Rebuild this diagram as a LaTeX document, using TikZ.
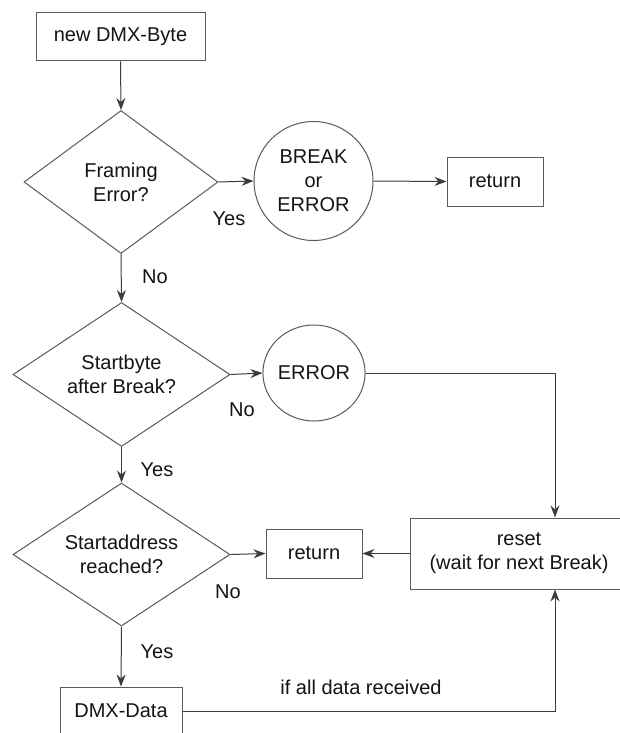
\documentclass[tikz,border=0pt]{standalone}
\usepackage{fontspec}
\setmainfont{Liberation Sans}
\usetikzlibrary{shapes.geometric,arrows.meta}
\definecolor{linecol}{RGB}{90,90,90}
\definecolor{conncol}{RGB}{60,60,60}
\definecolor{txtcol}{RGB}{20,20,20}
\begin{document}
\begin{tikzpicture}[x=1pt,y=-1pt,
  every node/.style={font=\fontsize{20pt}{24pt}\selectfont, text=txtcol},
  procbox/.style={draw=linecol, line width=1pt, rectangle, inner sep=0pt, align=center},
  decision/.style={draw=linecol, line width=1pt, diamond, inner sep=0pt, aspect=1.5},
  term/.style={draw=linecol, line width=1pt, ellipse, inner sep=0pt, align=center},
  arr/.style={draw=conncol, line width=1pt, -{Stealth[length=12pt,width=9pt,inset=4pt]}},
  plain/.style={draw=conncol, line width=1pt},
  lbl/.style={inner sep=0pt}
]
\useasboundingbox (0,0) rectangle (619,733);
\fill[white] (0,0) rectangle (619,733);

% nodes
\node[procbox, minimum width=169pt, minimum height=48pt] (start) at (120.5,37) {new DMX-Byte};
\node[decision, minimum width=194pt, minimum height=143pt,
      label={[align=center, inner sep=0pt]center:Framing\\Error?}] (d1) at (121,182) {};
\node[term, minimum width=119pt, minimum height=119pt] (brk) at (313.5,181) {BREAK\\or\\ERROR};
\node[procbox, minimum width=96pt, minimum height=49pt] (ret1) at (495,181.5) {return};

\node[decision, minimum width=217pt, minimum height=144pt,
      label={[align=center, inner sep=0pt]center:Startbyte\\after Break?}] (d2) at (121.5,374.5) {};
\node[term, minimum width=96pt, minimum height=96pt] (err) at (314,373) {ERROR};

\node[decision, minimum width=217pt, minimum height=143pt,
      label={[align=center, inner sep=0pt]center:Startaddress\\reached?}] (d3) at (121.5,554.5) {};
\node[procbox, minimum width=96pt, minimum height=49pt] (ret2) at (314,553.5) {return};
\node[procbox, minimum width=218pt, minimum height=71pt] (reset) at (519,553.5) {reset\\(wait for next Break)};

\node[procbox, minimum width=122pt, minimum height=48pt] (dmx) at (121,711) {DMX-Data};

\coordinate (vx) at (555,373);

% labels
\node[lbl] (l1) at (229,219) {Yes};
\node[lbl] (l2) at (155,277) {No};
\node[lbl] (l3) at (242,410) {No};
\node[lbl] (l4) at (157,470) {Yes};
\node[lbl] (l5) at (228,592) {No};
\node[lbl] (l6) at (157,652) {Yes};
\node[lbl] (l7) at (361,687) {if all data received};

% connectors
\draw[arr] (start.south) -- (d1.north);
\draw[arr] (d1.east) -- (brk.west);
\draw[arr] (brk.east) -- (ret1.west);
\draw[arr] (d1.south) -- (d2.north);
\draw[arr] (d2.east) -- (err.west);
\draw[plain] (err.east) -- (vx);
\draw[arr] (vx) -- (vx |- reset.north);
\draw[arr] (d2.south) -- (d3.north);
\draw[arr] (d3.east) -- (ret2.west);
\draw[arr] (reset.west) -- (ret2.east);
\draw[arr] (d3.south) -- (dmx.north);
\draw[arr] (dmx.east) -| (vx |- reset.south);
\end{tikzpicture}
\end{document}
